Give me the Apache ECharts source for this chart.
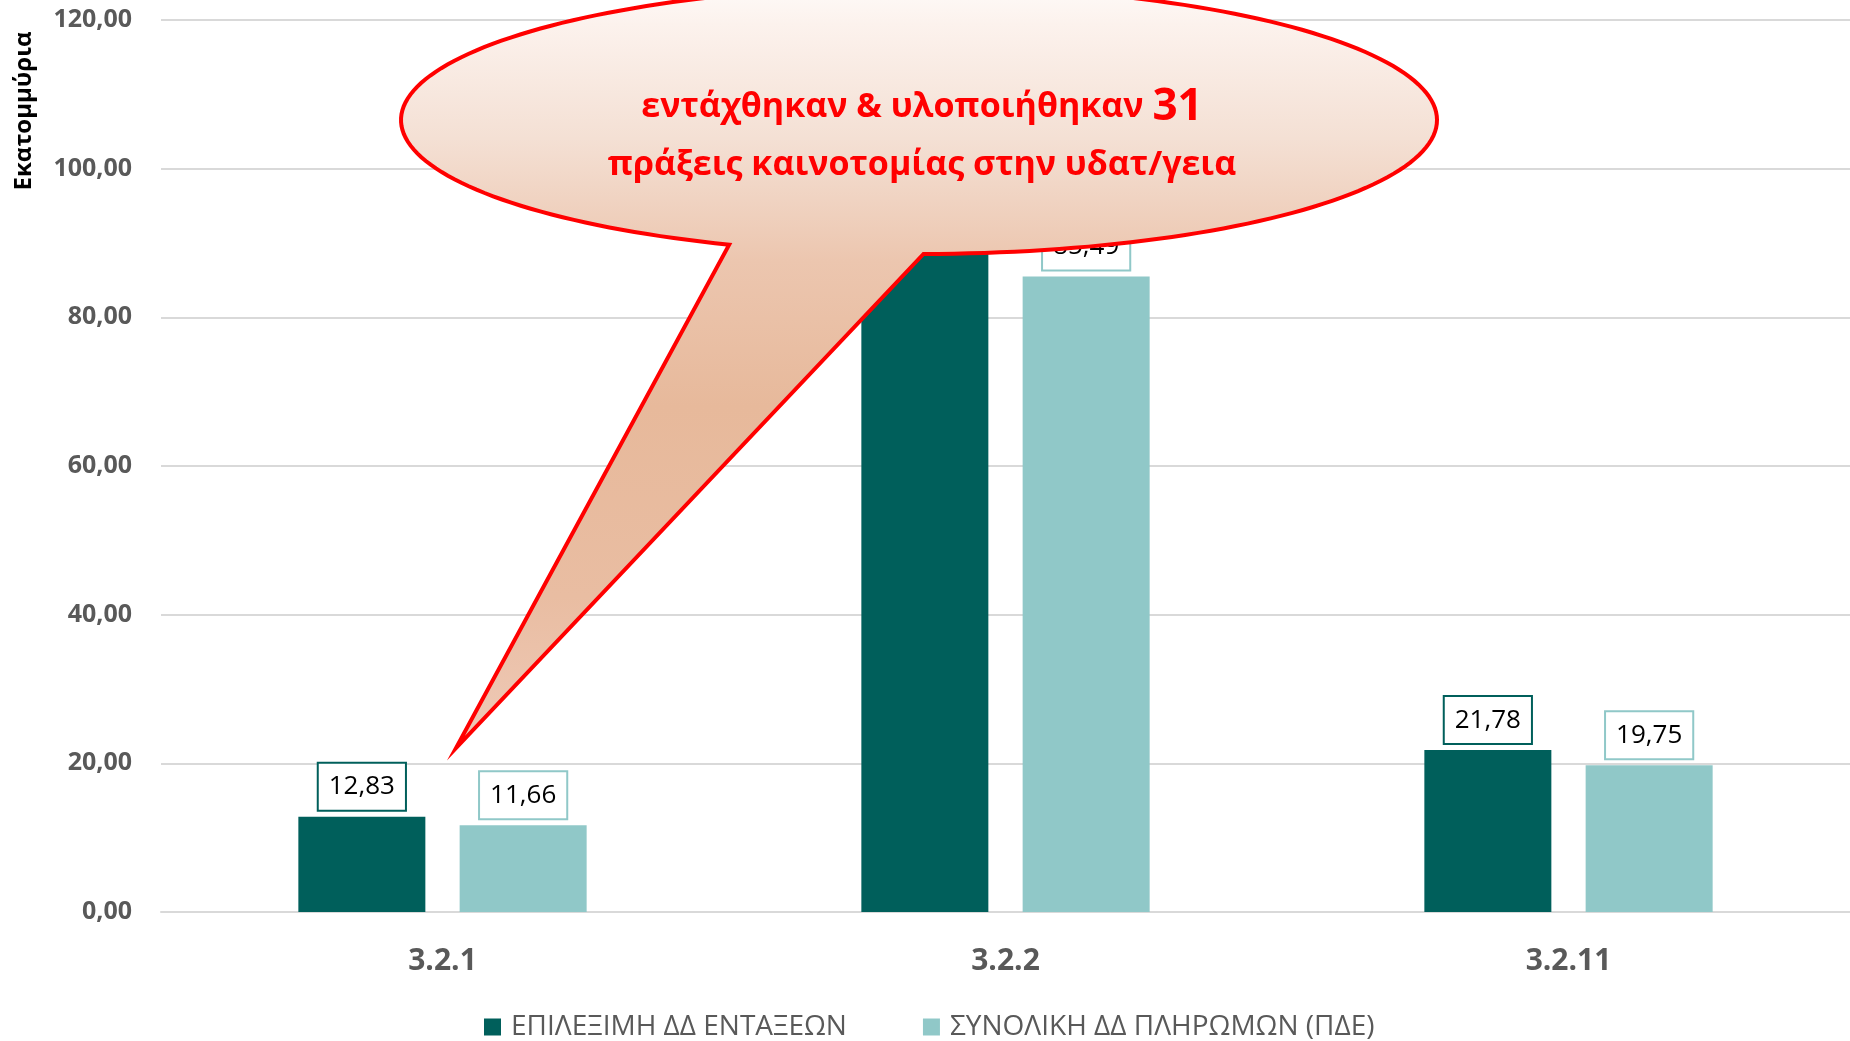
<!DOCTYPE html>
<html>
<head>
<meta charset="utf-8">
<script src="https://cdn.jsdelivr.net/npm/echarts@6/dist/echarts.min.js"></script>
<style>
html,body{margin:0;padding:0;background:#fff;}
#chart{width:1850px;height:1041px;}
</style>
</head>
<body>
<div id="chart"></div>
<script>
// ---- data ----
const categories = ['3.2.1', '3.2.2', '3.2.11'];
const seriesNames = ['ΕΠΙΛΕΞΙΜΗ ΔΔ ΕΝΤΑΞΕΩΝ', 'ΣΥΝΟΛΙΚΗ ΔΔ ΠΛΗΡΩΜΩΝ (ΠΔΕ)'];
const eligibleIntegrations = [12.83, 96.00, 21.78];
const totalPayments = [11.66, 85.49, 19.75];
const yAxisName = 'Εκατομμύρια';
const yMin = 0, yMax = 120, yStep = 20;
const calloutLine1 = 'εντάχθηκαν & υλοποιήθηκαν ';
const calloutNumber = '31';
const calloutLine2 = 'πράξεις καινοτομίας στην υδατ/γεια';

// ---- styling ----
const DARK = '#005F5B';
const LIGHT = '#90C8C8';
const FONT = "'Open Sans', 'DejaVu Sans', sans-serif";
const fmt = v => v.toFixed(2).replace('.', ',');

const chart = echarts.init(document.getElementById('chart'), null, {renderer: 'canvas'});

function labelFor(color) {
  return {
    show: true,
    position: 'top',
    distance: 7,
    formatter: p => fmt(p.value),
    color: '#000',
    fontFamily: FONT,
    fontSize: 26,
    lineHeight: 30,
    backgroundColor: '#fff',
    borderColor: color,
    borderWidth: 2,
    padding: [8, 10, 8, 10]
  };
}

// callout shape (annotation)
const cx = 919, cy = 120, rx = 518, ry = 134;
const tip = [456, 748];
const pts = [];
const a0 = 89.5, a1 = 111.5 - 360;
for (let i = 0; i <= 200; i++) {
  const a = (a0 + (a1 - a0) * i / 200) * Math.PI / 180;
  pts.push([cx + rx * Math.cos(a), cy + ry * Math.sin(a)]);
}
pts.push(tip);

const option = {
  backgroundColor: '#fff',
  animation: false,
  grid: {left: 161, right: -12, top: 20, bottom: 129, containLabel: false},
  legend: {
    data: seriesNames,
    left: 479,
    top: 1008,
    icon: 'rect',
    itemWidth: 17,
    itemHeight: 17,
    itemGap: 76,
    textStyle: {color: '#595959', fontFamily: FONT, fontSize: 28, padding: [0, 0, 0, 5]}
  },
  xAxis: {
    type: 'category',
    data: categories,
    axisTick: {show: false},
    axisLine: {show: true, lineStyle: {color: '#d9d9d9', width: 2}},
    axisLabel: {color: '#595959', fontFamily: FONT, fontWeight: 'bold', fontSize: 30, margin: 34}
  },
  yAxis: {
    type: 'value',
    min: yMin,
    max: yMax,
    interval: yStep,
    axisLine: {show: false},
    axisTick: {show: false},
    splitLine: {lineStyle: {color: '#d9d9d9', width: 2}},
    axisLabel: {color: '#595959', fontFamily: FONT, fontWeight: 'bold', fontSize: 25, margin: 29, formatter: v => fmt(v)}
  },
  series: [
    {
      name: seriesNames[0],
      type: 'bar',
      data: eligibleIntegrations,
      barWidth: 127,
      barGap: '27%',
      itemStyle: {color: DARK},
      label: labelFor(DARK)
    },
    {
      name: seriesNames[1],
      type: 'bar',
      data: totalPayments,
      barWidth: 127,
      itemStyle: {color: LIGHT},
      label: labelFor(LIGHT)
    }
  ],
  graphic: [
    {
      type: 'text',
      z: 50,
      x: 24,
      y: 111,
      rotation: Math.PI / 2,
      style: {
        text: yAxisName,
        fill: '#000',
        font: "bold 24px 'Open Sans', sans-serif",
        align: 'center',
        verticalAlign: 'middle'
      }
    },
    {
      type: 'polygon',
      z: 100,
      shape: {points: pts},
      style: {
        fill: {
          type: 'linear', x: 0, y: -14, x2: 0, y2: 750, global: true,
          colorStops: [
            {offset: 0, color: '#fefaf8'},
            {offset: 0.05, color: '#fcf2ed'},
            {offset: 0.2, color: '#f4e0d4'},
            {offset: 0.36, color: '#ecc6af'},
            {offset: 0.55, color: '#e7b99b'},
            {offset: 0.8, color: '#e9bda2'},
            {offset: 1, color: '#efcab8'}
          ]
        },
        stroke: '#ff0000',
        lineWidth: 4,
        lineJoin: 'miter'
      }
    },
    {
      type: 'text',
      z: 101,
      x: 922,
      y: 136,
      style: {
        text: '{a|' + calloutLine1 + '}{b|' + calloutNumber + '}\n{a|' + calloutLine2 + '}',
        align: 'center',
        verticalAlign: 'middle',
        fill: '#ff0000',
        rich: {
          a: {fill: '#ff0000', fontFamily: FONT, fontWeight: 'bold', fontSize: 34, lineHeight: 58},
          b: {fill: '#ff0000', fontFamily: FONT, fontWeight: 'bold', fontSize: 44, lineHeight: 58}
        }
      }
    }
  ]
};
chart.setOption(option);
</script>
</body>
</html>
